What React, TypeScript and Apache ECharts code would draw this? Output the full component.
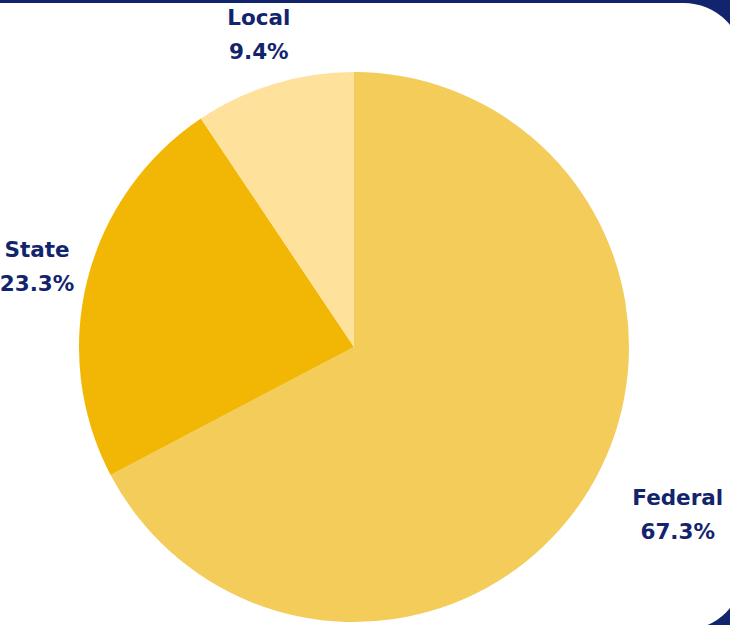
import React, { useEffect, useRef } from "react";
import * as echarts from "echarts";

const categories = ["Federal", "State", "Local"];
const shares = [67.3, 23.3, 9.4];
const sliceColors = ["#F3CC5A", "#F2B705", "#FEE29B"];

const NAVY = "#13246E";
const CX = 354;
const CY = 347;
const RADIUS = 275;

export default function App() {
  const ref = useRef<HTMLDivElement>(null);

  useEffect(() => {
    if (!ref.current) return;
    const chart = echarts.init(ref.current, undefined, { renderer: "svg" });
    const total = shares.reduce((a, b) => a + b, 0);

    const data = categories.map((name, i) => ({
      name,
      value: shares[i],
      itemStyle: { color: sliceColors[i] },
    }));

    chart.setOption({
      animation: false,
      backgroundColor: NAVY,
      graphic: [
        {
          type: "rect",
          z: -10,
          silent: true,
          shape: { x: -100, y: 3, width: 843.6, height: 627, r: 60 },
          style: { fill: "#ffffff" },
        },
      ],
      series: [
        {
          type: "pie",
          center: [CX, CY],
          radius: RADIUS,
          startAngle: 90,
          clockwise: true,
          silent: true,
          avoidLabelOverlap: false,
          itemStyle: { borderWidth: 0 },
          labelLine: { show: false },
          label: {
            show: true,
            position: "outside",
            formatter: (p: any) => `{a|${p.name}}\n{a|${p.value.toFixed(1)}%}`,
            rich: {
              a: {
                fontFamily: "'DejaVu Sans', sans-serif",
                fontWeight: "bold",
                fontSize: 21.5,
                lineHeight: 34,
                color: NAVY,
                align: "center",
              },
            },
          },
          labelLayout: (p: any) => {
            const i = p.dataIndex;
            let before = 0;
            for (let k = 0; k < i; k++) before += shares[k];
            const midDeg = 90 - ((before + shares[i] / 2) / total) * 360;
            const rad = (midDeg * Math.PI) / 180;
            const c = Math.cos(rad);
            const s = Math.sin(rad);
            if (c > 0.5) {
              const R = 324;
              return {
                x: CX + R * c + 1,
                y: CY - R * s,
                align: "left",
                verticalAlign: "middle",
              };
            }
            const R = 327;
            return {
              x: CX + R * c,
              y: CY - R * s,
              align: "center",
              verticalAlign: "middle",
            };
          },
          data,
        },
      ],
    });

    return () => chart.dispose();
  }, []);

  return (
    <div
      ref={ref}
      style={{ position: "fixed", left: 0, top: 0, width: 730, height: 625 }}
    />
  );
}
